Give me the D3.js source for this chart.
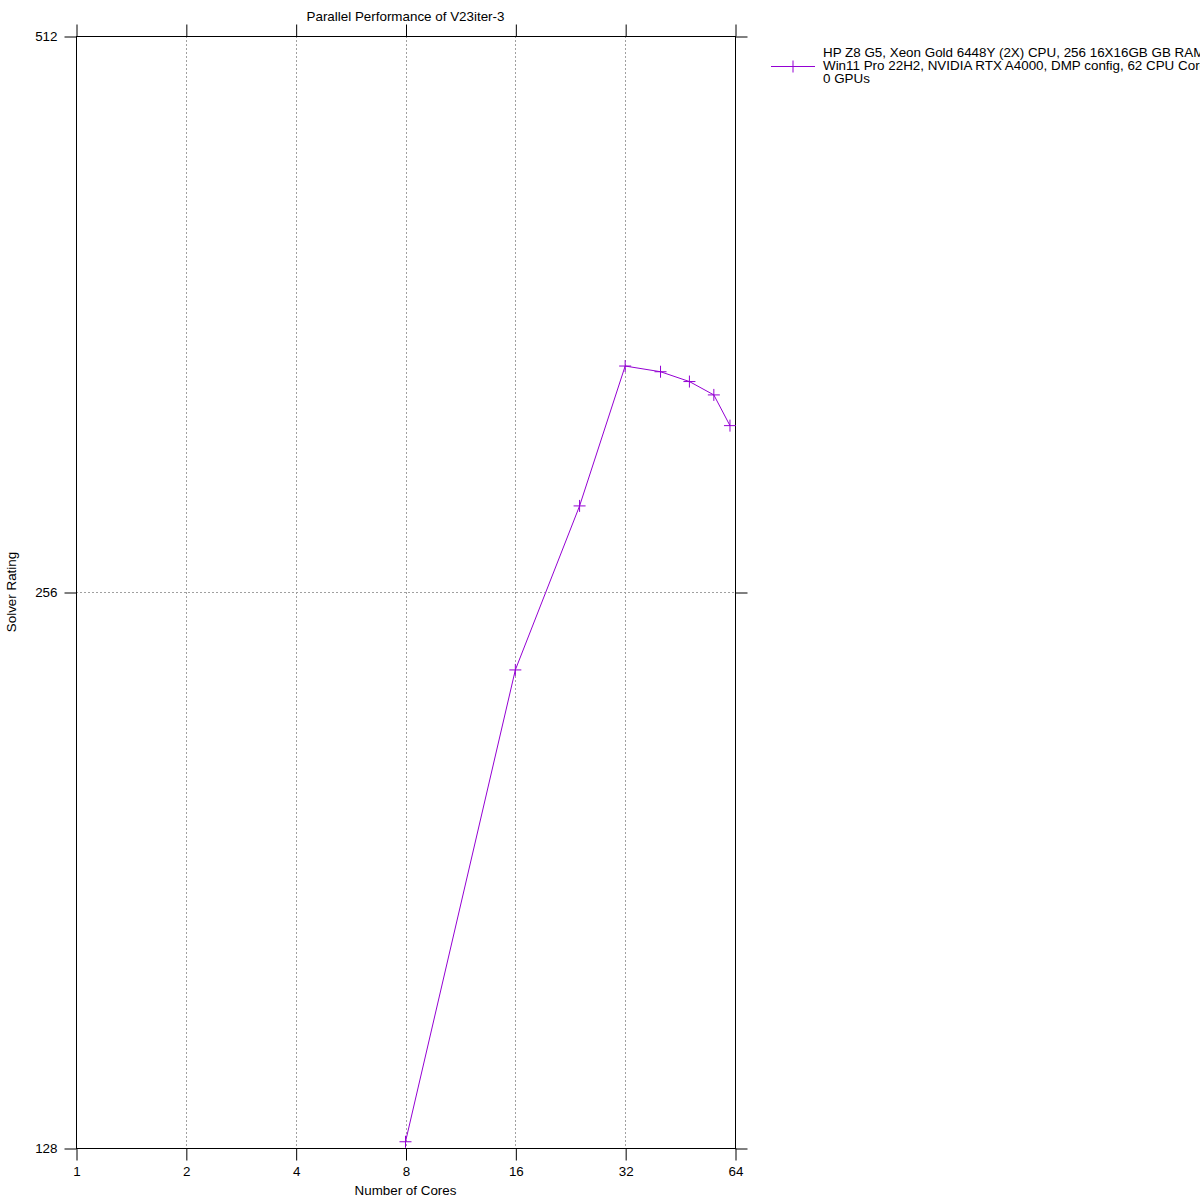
<!DOCTYPE html>
<html>
<head>
<meta charset="utf-8">
<script src="https://cdn.jsdelivr.net/npm/d3@7"></script>
<style>
  html, body { margin: 0; padding: 0; background: #fff; }
  svg { display: block; font-family: "Liberation Sans", Arial, sans-serif; }
</style>
</head>
<body>
<svg id="chart" width="1200" height="1200"></svg>
<script>
// ---- data ----
const cores = [8, 16, 24, 32, 40, 48, 56, 62];
const rating = [129, 232.3, 285, 339.3, 336.9, 332.8, 327.3, 315];
const xTicks = [1, 2, 4, 8, 16, 32, 64];
const yTicks = [128, 256, 512];
const seriesName = [
  "HP Z8 G5, Xeon Gold 6448Y (2X) CPU, 256 16X16GB GB RAM,",
  "Win11 Pro 22H2, NVIDIA RTX A4000, DMP config, 62 CPU Cores,",
  "0 GPUs"
];
const chartTitle = "Parallel Performance of V23iter-3";
const xLabel = "Number of Cores";
const yLabel = "Solver Rating";

(function () {
  // ---- layout ----
  const L = 76, R = 735, T = 36, B = 1148;
  const color = "#9400d3";
  const fs = 13.4;
  const svg = d3.select("#chart");

  const x = d3.scaleLog().base(2).domain([1, 64]).range([L, R]);
  const y = d3.scaleLog().base(2).domain([128, 512]).range([B, T]);

  // grid
  const grid = svg.append("g").attr("stroke", "#a0a0a0").attr("stroke-dasharray", "2,2").attr("stroke-width", 1);
  xTicks.filter(d => d > 1 && d < 64).forEach(d => {
    grid.append("line").attr("x1", Math.round(x(d)) + 0.5).attr("x2", Math.round(x(d)) + 0.5).attr("y1", T).attr("y2", B);
  });
  yTicks.filter(d => d > 128 && d < 512).forEach(d => {
    grid.append("line").attr("y1", Math.round(y(d)) + 0.5).attr("y2", Math.round(y(d)) + 0.5).attr("x1", L).attr("x2", R);
  });

  // axes (ticks outward, mirrored)
  const fmt = d => String(d);
  const tk = 12;
  const ax = svg.append("g");
  ax.append("g").attr("transform", `translate(0.5,${B + 0.5})`)
    .call(d3.axisBottom(x).tickValues(xTicks).tickFormat(fmt).tickSize(tk).tickSizeOuter(0).tickPadding(6));
  ax.append("g").attr("transform", `translate(0.5,${T + 0.5})`)
    .call(d3.axisTop(x).tickValues(xTicks).tickFormat("").tickSize(tk).tickSizeOuter(0));
  ax.append("g").attr("transform", `translate(${L + 0.5},0.5)`)
    .call(d3.axisLeft(y).tickValues(yTicks).tickFormat(fmt).tickSize(tk).tickSizeOuter(0).tickPadding(7));
  ax.append("g").attr("transform", `translate(${R + 0.5},0.5)`)
    .call(d3.axisRight(y).tickValues(yTicks).tickFormat("").tickSize(tk).tickSizeOuter(0));
  ax.selectAll(".domain").remove();
  ax.selectAll("line").attr("stroke", "#000");
  ax.selectAll("text").attr("fill", "#000")
    .attr("font-family", "'Liberation Sans', Arial, sans-serif").attr("font-size", fs);

  // border
  svg.append("rect").attr("x", L + 0.5).attr("y", T + 0.5).attr("width", R - L).attr("height", B - T)
    .attr("fill", "none").attr("stroke", "#000").attr("stroke-width", 1);

  // series line
  const pts = cores.map((c, i) => [c, rating[i]]);
  svg.append("path").datum(pts)
    .attr("d", d3.line().x(d => x(d[0])).y(d => y(d[1])))
    .attr("fill", "none").attr("stroke", color).attr("stroke-width", 1);

  // plus markers
  const s = 6;
  svg.append("g").selectAll("path").data(pts).join("path")
    .attr("d", d => {
      const px = x(d[0]), py = y(d[1]);
      return `M${px - s},${py}H${px + s}M${px},${py - s}V${py + s}`;
    })
    .attr("stroke", color).attr("stroke-width", 1).attr("fill", "none");

  // title & labels
  svg.append("text").attr("x", (L + R) / 2).attr("y", 21).attr("text-anchor", "middle")
    .attr("font-size", fs).text(chartTitle);
  svg.append("text").attr("x", (L + R) / 2).attr("y", 1195).attr("text-anchor", "middle")
    .attr("font-size", fs).text(xLabel);
  svg.append("text").attr("transform", `translate(16,${(T + B) / 2}) rotate(-90)`).attr("text-anchor", "middle")
    .attr("font-size", fs).text(yLabel);

  // legend
  const lg = svg.append("g");
  const ly = 66.5;
  lg.append("line").attr("x1", 771).attr("x2", 815).attr("y1", ly).attr("y2", ly).attr("stroke", color);
  lg.append("path").attr("d", `M${793 - s},${ly}H${793 + s}M${793},${ly - s}V${ly + s}`).attr("stroke", color);
  seriesName.forEach((t, i) => {
    lg.append("text").attr("x", 823).attr("y", 57 + i * 13).attr("font-size", fs).text(t);
  });
})();
</script>
</body>
</html>
